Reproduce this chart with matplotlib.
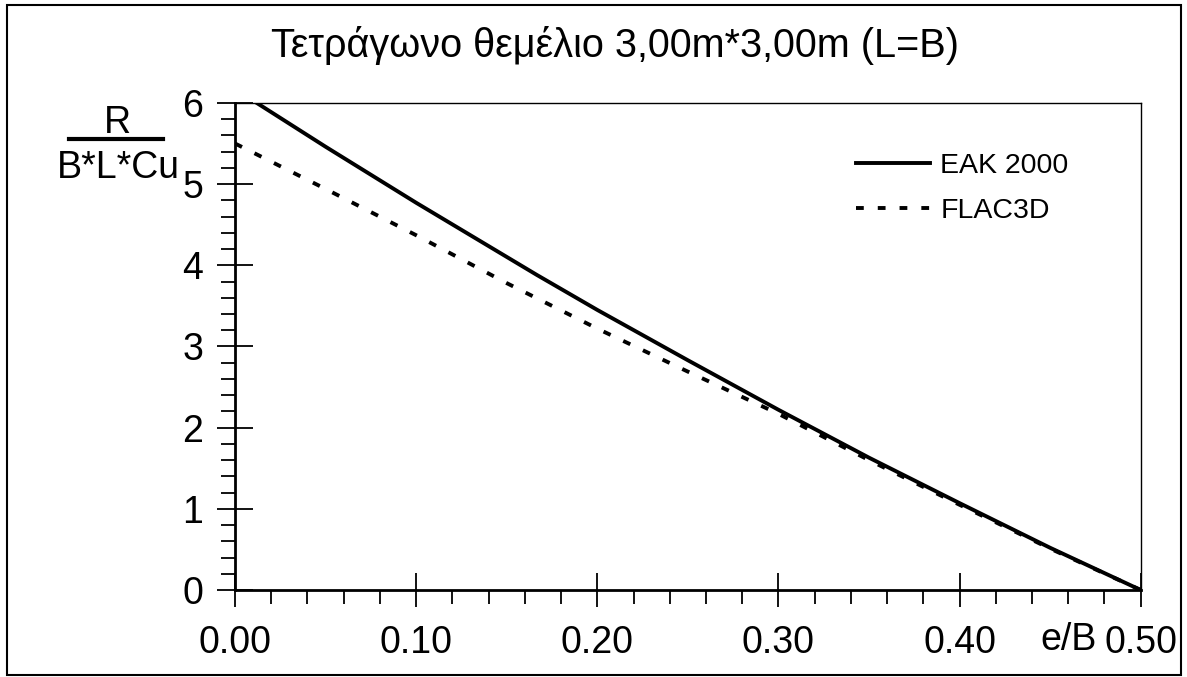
import matplotlib.pyplot as plt
from matplotlib.patches import Rectangle
from matplotlib.ticker import MultipleLocator, FormatStrFormatter

plt.rcParams['font.family'] = ['Liberation Sans', 'DejaVu Sans']

# values
e_eak = [0.0, 0.05, 0.10, 0.1667, 0.20, 0.25, 0.30, 0.35, 0.40, 0.45, 0.50]
r_eak = [6.17, 5.46, 4.77, 3.88, 3.45, 2.83, 2.22, 1.63, 1.07, 0.52, 0.0]

e_flac = [0.0, 0.05, 0.10, 0.15, 0.20, 0.25, 0.30, 0.35, 0.40, 0.45, 0.50]
r_flac = [5.50, 4.94, 4.37, 3.78, 3.22, 2.69, 2.17, 1.60, 1.05, 0.51, 0.0]

title = 'Τετράγωνο θεμέλιο 3,00m*3,00m (L=B)'


def main():
    fig = plt.figure(figsize=(11.87, 6.77), dpi=100)
    ax = fig.add_axes([0.198, 0.1285, 0.763, 0.7195])

    ax.plot(e_eak, r_eak, color='black', lw=2.8, label='EAK 2000')
    ax.plot(e_flac, r_flac, color='black', lw=2.8, dashes=(2.0, 3.6), label='FLAC3D')

    ax.set_xlim(0, 0.5)
    ax.set_ylim(0, 6)

    ax.xaxis.set_major_locator(MultipleLocator(0.1))
    ax.xaxis.set_minor_locator(MultipleLocator(0.02))
    ax.yaxis.set_major_locator(MultipleLocator(1))
    ax.yaxis.set_minor_locator(MultipleLocator(0.2))
    ax.xaxis.set_major_formatter(FormatStrFormatter('%.2f'))

    ax.tick_params(axis='x', which='major', direction='inout', length=24, width=1.3,
                   labelsize=27, pad=13)
    ax.tick_params(axis='x', which='minor', direction='out', length=10, width=1.3)
    ax.tick_params(axis='y', which='major', direction='inout', length=26, width=1.3,
                   labelsize=27, pad=10)
    ax.tick_params(axis='y', which='minor', direction='out', length=10, width=1.3)

    for s in ['left', 'bottom']:
        ax.spines[s].set_linewidth(2)
    for s in ['top', 'right']:
        ax.spines[s].set_linewidth(1)

    fig.text(0.518, 0.933, title, ha='center', va='center', fontsize=28.5)

    # fraction style y label
    fig.text(0.099, 0.818, 'R', ha='center', va='center', fontsize=27)
    fig.add_artist(plt.Line2D([0.058, 0.137], [0.794, 0.794], color='black', lw=3))
    fig.text(0.100, 0.752, 'B*L*Cu', ha='center', va='center', fontsize=27)

    fig.text(0.9, 0.054, 'e/B', ha='center', va='center', fontsize=27)

    ax.legend(loc='upper left', bbox_to_anchor=(0.686, 0.897), frameon=False,
              fontsize=20.5, handlelength=2.6, handletextpad=0.35, labelspacing=0.65,
              borderpad=0, borderaxespad=0)

    fig.add_artist(Rectangle((7 / 1187, 1 - 675 / 677), 1174 / 1187, 670 / 677,
                             transform=fig.transFigure, fill=False,
                             edgecolor='black', lw=1.5))

    plt.savefig('out.png', dpi=100)


if __name__ == '__main__':
    main()
